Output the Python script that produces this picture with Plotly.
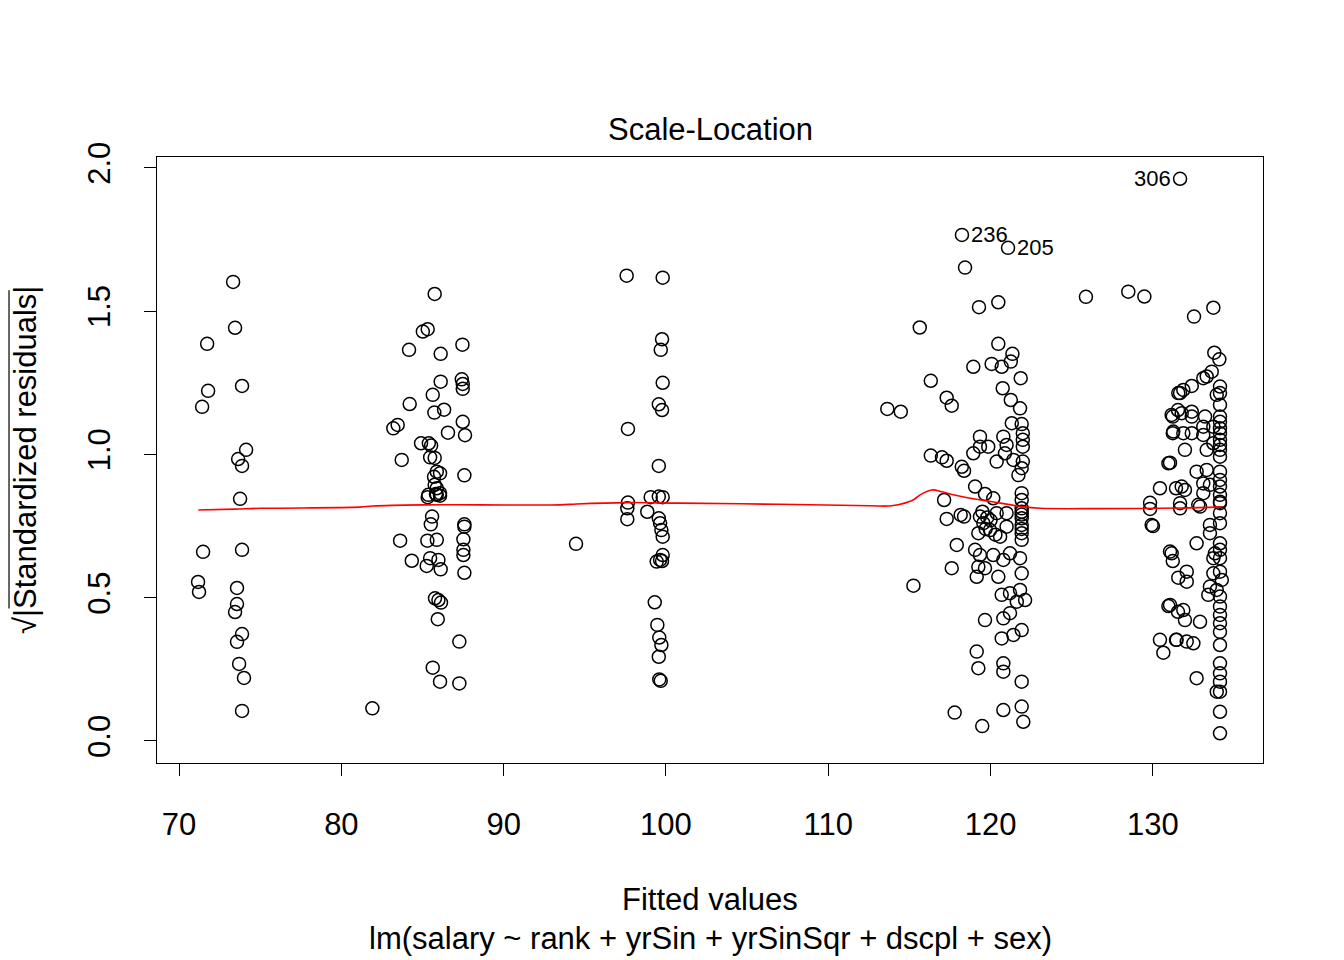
import plotly.graph_objects as go

# ---- data: fitted values and sqrt(|standardized residuals|) ----
fitted_g1 = [71.42, 71.73, 71.79, 71.48, 71.17, 71.23, 73.33, 73.45, 73.88, 74.13, 73.64,
             73.88, 73.76, 73.88, 73.57, 73.57, 73.45, 73.88, 73.57, 73.70, 74.00, 73.88]
resid_g1 = [1.166, 1.386, 1.222, 0.660, 0.555, 0.520, 1.602, 1.442, 1.239, 1.016, 0.984,
            0.960, 0.845, 0.667, 0.534, 0.478, 0.450, 0.373, 0.346, 0.269, 0.220, 0.105]

fitted_g2 = [85.75, 85.02, 85.32, 84.17, 86.12, 87.46, 86.12, 87.42, 87.48, 87.48, 85.63,
             84.21, 85.73, 86.33, 83.47, 83.20, 87.48, 86.57, 87.62, 84.91, 85.39, 85.53,
             83.72, 85.47, 85.75, 85.88, 86.08, 85.71, 87.58, 85.75, 85.88, 85.36, 85.88,
             86.08, 85.32, 85.83, 86.08, 85.59, 85.51, 87.58, 87.58, 83.62, 85.30, 85.88,
             87.52, 87.52, 87.52, 84.34, 85.47, 85.98, 85.26, 86.12, 87.58, 85.77, 85.98,
             86.14, 85.94, 87.27, 85.63, 86.08, 87.27, 81.91]
resid_g2 = [1.560, 1.429, 1.437, 1.365, 1.351, 1.383, 1.254, 1.262, 1.246, 1.229, 1.208,
            1.176, 1.146, 1.156, 1.103, 1.091, 1.114, 1.076, 1.067, 1.039, 1.039, 1.031,
            0.981, 0.990, 0.988, 0.940, 0.934, 0.922, 0.927, 0.894, 0.882, 0.859, 0.859,
            0.865, 0.851, 0.862, 0.856, 0.783, 0.756, 0.756, 0.748, 0.699, 0.699, 0.702,
            0.704, 0.667, 0.649, 0.629, 0.638, 0.632, 0.611, 0.599, 0.587, 0.498, 0.492,
            0.483, 0.425, 0.347, 0.256, 0.207, 0.201, 0.114]

fitted_g3 = [97.58, 99.80, 99.76, 99.68, 99.80, 99.56, 99.76, 97.66, 99.56, 99.06, 99.56,
             99.80, 97.66, 97.62, 97.62, 98.85, 99.56, 99.64, 99.72, 99.80, 94.46, 99.43,
             99.64, 99.80, 99.76, 99.31, 99.47, 99.59, 99.72, 99.56, 99.59, 99.68]
resid_g3 = [1.624, 1.617, 1.402, 1.365, 1.250, 1.175, 1.155, 1.089, 0.960, 0.851, 0.853,
            0.851, 0.832, 0.812, 0.774, 0.800, 0.777, 0.760, 0.736, 0.713, 0.688, 0.626,
            0.632, 0.649, 0.628, 0.484, 0.405, 0.361, 0.335, 0.294, 0.215, 0.210]

fitted_g4 = [118.24, 118.43, 115.64, 116.32, 117.30, 117.61, 113.64, 114.47, 116.32, 117.01,
             117.30, 118.23, 118.37, 117.14, 117.30, 118.16, 118.37, 117.92, 117.61, 115.25,
             117.79,
             121.08, 119.29, 120.48, 120.48, 121.35, 118.94, 120.07, 120.69, 121.25, 121.86,
             120.75, 121.25, 121.82, 121.31, 121.92, 119.35, 121.99, 121.99, 118.94, 119.35,
             119.86, 120.79, 120.99, 121.99, 120.38, 120.89, 121.41, 121.99, 121.72, 121.92,
             119.05, 119.66, 120.17, 121.92, 121.92, 119.35, 120.38, 120.99, 121.92, 119.56,
             119.97, 119.25, 120.59, 121.92, 121.92, 121.92, 121.92, 120.99, 119.05, 119.35,
             120.17, 121.20, 120.79, 121.82, 119.25, 119.66, 119.15, 120.48, 121.92, 120.69,
             121.20, 121.82, 122.13, 121.62, 121.20, 119.66, 120.79, 120.69, 121.41, 121.92,
             119.15, 119.25, 120.79, 120.79, 121.92, 120.79, 121.92, 122.02, 119.49,
             119.50, 119.80, 120.00, 119.70, 121.92, 121.92, 121.92, 120.30]
resid_g4 = [1.766, 1.652, 1.443, 1.257, 1.198, 1.170, 1.159, 1.149, 0.996, 0.990,
            0.978, 0.957, 0.943, 0.841, 0.775, 0.789, 0.783, 0.684, 0.603, 0.542,
            0.099,
            1.721, 1.514, 1.531, 1.386, 1.351, 1.306, 1.316, 1.306, 1.324, 1.266,
            1.231, 1.190, 1.161, 1.109, 1.106, 1.062, 1.074, 1.051, 1.004, 1.027,
            1.027, 1.062, 1.033, 1.027, 0.975, 1.004, 0.981, 0.975, 0.928, 0.952,
            0.888, 0.862, 0.847, 0.865, 0.841, 0.783, 0.795, 0.795, 0.800, 0.760,
            0.736, 0.725, 0.713, 0.777, 0.754, 0.725, 0.702, 0.748, 0.667, 0.649,
            0.649, 0.655, 0.632, 0.638, 0.608, 0.603, 0.573, 0.573, 0.585, 0.510,
            0.516, 0.527, 0.492, 0.486, 0.446, 0.422, 0.428, 0.358, 0.370, 0.387,
            0.312, 0.254, 0.271, 0.242, 0.207, 0.108, 0.120, 0.067, 0.052,
            0.800, 0.780, 0.770, 0.740, 0.812, 0.790, 0.740, 0.720]

fitted_g5 = [131.68, 125.88, 128.49, 129.48, 131.23, 131.55, 131.57, 131.23, 130.96, 130.44,
             131.43, 129.83, 129.83, 129.93, 130.01, 131.06, 131.23, 131.57, 130.96, 131.55,
             130.44, 130.65, 131.43,
             133.73, 132.54, 133.79, 134.10, 133.63, 133.32, 133.11, 132.40, 131.88, 131.68,
             134.14, 134.14, 133.94, 134.14, 132.40, 131.78, 131.16, 132.40, 133.22, 134.14,
             134.14, 133.11, 133.73, 134.14, 131.26, 131.88, 132.40, 133.11, 134.14, 134.14,
             133.73, 134.14, 131.98, 133.32, 134.14, 134.14, 131.06, 132.70, 133.32, 134.14,
             131.78, 131.98, 133.11, 133.52, 134.14, 134.14, 133.11, 134.14, 131.68, 132.80,
             134.14,
             131.68, 132.91, 134.14, 134.14, 133.52, 134.14, 132.70, 133.52, 134.14, 134.14,
             131.16, 133.83, 133.73, 134.14, 132.09, 132.09, 133.73, 134.14, 134.25, 133.52,
             133.94, 133.42, 134.14, 134.14, 134.14, 131.06, 131.88, 131.98, 132.91, 134.14,
             134.14, 131.47, 132.09, 132.50, 134.14, 134.14, 132.70, 134.14, 134.14, 133.94,
             134.14, 134.14, 134.14]
resid_g5 = [1.962, 1.550, 1.568, 1.551, 1.132, 1.155, 1.214, 1.074, 0.969, 0.882,
            0.882, 0.831, 0.810, 0.754, 0.750, 0.661, 0.628, 0.570, 0.471, 0.451,
            0.353, 0.308, 0.353,
            1.512, 1.481, 1.355, 1.332, 1.289, 1.272, 1.266, 1.239, 1.225, 1.214,
            1.237, 1.214, 1.208, 1.173, 1.149, 1.144, 1.138, 1.132, 1.132, 1.132,
            1.114, 1.097, 1.097, 1.091, 1.080, 1.074, 1.074, 1.068, 1.074, 1.051,
            1.039, 1.033, 1.016, 1.016, 1.016, 0.992, 0.971, 0.940, 0.946, 0.940,
            0.888, 0.876, 0.899, 0.894, 0.911, 0.888, 0.865, 0.859, 0.830, 0.824,
            0.835,
            0.812, 0.818, 0.830, 0.795, 0.754, 0.760, 0.690, 0.725, 0.690, 0.667,
            0.655, 0.655, 0.638, 0.638, 0.591, 0.556, 0.585, 0.591, 0.562, 0.539,
            0.527, 0.510, 0.504, 0.469, 0.440, 0.475, 0.457, 0.422, 0.416, 0.411,
            0.381, 0.353, 0.347, 0.341, 0.335, 0.271, 0.219, 0.236, 0.207, 0.172,
            0.172, 0.102, 0.027]

# loess smooth (red line)
smooth_x = [71.19, 73.45, 74.99, 81.15, 81.95, 85.03, 88.55, 93.48, 94.50, 97.58, 100.85,
            107.0, 112.58, 113.91, 115.24, 115.66, 116.38, 116.99, 117.71, 118.74, 120.0,
            121.92, 123.05, 126.75, 131.68, 134.25]
smooth_y = [0.806, 0.809, 0.812, 0.816, 0.820, 0.824, 0.824, 0.824, 0.827, 0.832, 0.830,
            0.826, 0.821, 0.821, 0.841, 0.859, 0.876, 0.870, 0.859, 0.847, 0.836,
            0.818, 0.812, 0.811, 0.813, 0.817]

# labelled observations
outlier_ids = ["306", "236", "205"]
outlier_x = [131.68, 118.24, 121.08]
outlier_y = [1.962, 1.766, 1.721]
outlier_side = ["left", "right", "right"]

x_ticks = [70, 80, 90, 100, 110, 120, 130]
y_ticks = [0.0, 0.5, 1.0, 1.5, 2.0]
y_tick_text = ["0.0", "0.5", "1.0", "1.5", "2.0"]

FONT = "Liberation Sans, Arial, sans-serif"

fitted = fitted_g1 + fitted_g2 + fitted_g3 + fitted_g4 + fitted_g5
resid = resid_g1 + resid_g2 + resid_g3 + resid_g4 + resid_g5

fig = go.Figure()
fig.add_trace(go.Scatter(
    x=fitted, y=resid, mode="markers",
    marker=dict(symbol="circle-open", size=13, color="black", line=dict(width=1.5)),
    showlegend=False))
fig.add_trace(go.Scatter(
    x=smooth_x, y=smooth_y, mode="lines", line=dict(color="red", width=1.6, shape="spline"),
    showlegend=False))

for lab, xv, yv, side in zip(outlier_ids, outlier_x, outlier_y, outlier_side):
    fig.add_annotation(x=xv, y=yv, xref="x", yref="y", text=lab, showarrow=False,
                       xanchor="right" if side == "left" else "left",
                       xshift=-7 if side == "left" else 7,
                       font=dict(family=FONT, size=22, color="black"))

# titles
fig.add_annotation(text="Scale-Location", xref="paper", yref="paper", x=0.5, y=1.0446,
                   showarrow=False, xanchor="center", yanchor="middle",
                   font=dict(family=FONT, size=31, color="black"))
fig.add_annotation(text="Fitted values", xref="paper", yref="paper", x=0.5, y=-0.226,
                   showarrow=False, xanchor="center", yanchor="middle",
                   font=dict(family=FONT, size=31, color="black"))
fig.add_annotation(text="lm(salary ~ rank + yrSin + yrSinSqr + dscpl + sex)",
                   xref="paper", yref="paper", x=0.5, y=-0.2888,
                   showarrow=False, xanchor="center", yanchor="middle",
                   font=dict(family=FONT, size=31, color="black"))
fig.add_annotation(text="√|Standardized residuals|", xref="paper", yref="paper",
                   x=-0.1193, y=0.5, textangle=-90, showarrow=False,
                   xanchor="center", yanchor="middle",
                   font=dict(family=FONT, size=31, color="black"))
# overline of the square root
fig.add_shape(type="line", xref="paper", yref="paper", x0=-0.1338, x1=-0.1338,
              y0=0.255, y1=0.78, line=dict(color="black", width=1.2))

fig.update_xaxes(range=[68.64, 136.79], tickvals=x_ticks, ticks="outside", ticklen=12,
                 tickwidth=1, tickcolor="black", showgrid=False, zeroline=False,
                 showline=True, mirror=True, linecolor="black", linewidth=1,
                 tickfont=dict(family=FONT, size=31, color="black"),
                 ticklabelstandoff=22)
fig.update_yaxes(range=[-0.0768, 2.038], tickvals=y_ticks, ticktext=y_tick_text,
                 ticks="outside", ticklen=12, tickwidth=1, tickcolor="black",
                 tickangle=-90, showgrid=False, zeroline=False,
                 showline=True, mirror=True, linecolor="black", linewidth=1,
                 tickfont=dict(family=FONT, size=31, color="black"),
                 ticklabelstandoff=22)

# the page adds an 8 px body margin, so the figure is 8 px smaller each way
fig.update_layout(width=1336, height=952, autosize=False,
                  margin=dict(l=149, r=81, t=149, b=197),
                  paper_bgcolor="white", plot_bgcolor="white",
                  font=dict(family=FONT, color="black"))

fig.write_html("out.html")
